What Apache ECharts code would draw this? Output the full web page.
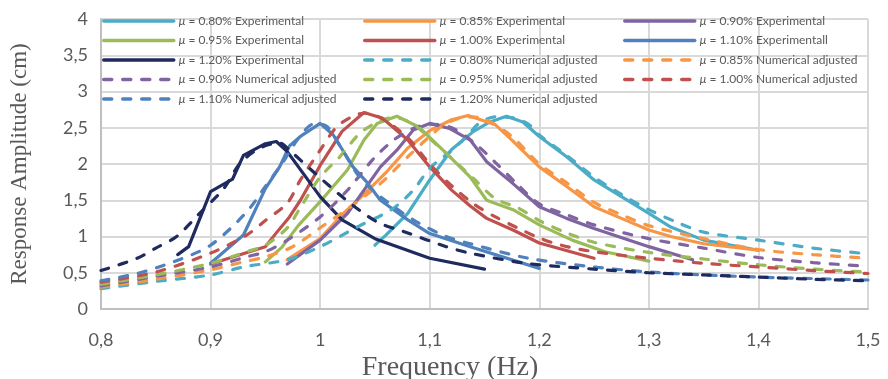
<!DOCTYPE html>
<html>
<head>
<meta charset="utf-8">
<script src="https://cdn.jsdelivr.net/npm/echarts@6/dist/echarts.min.js"></script>
<style>
  html, body { margin: 0; padding: 0; background: #fff; }
  #chart { width: 888px; height: 379px; }
</style>
</head>
<body>
<div id="chart"></div>
<script>
// frequency (Hz), amplitude (cm)
const exp080 = [[1.05,0.88],[1.06,1.02],[1.08,1.32],[1.10,1.78],[1.12,2.20],[1.14,2.45],[1.155,2.58],[1.17,2.66],[1.185,2.58],[1.20,2.38],[1.225,2.10],[1.25,1.78],[1.275,1.55],[1.30,1.32],[1.32,1.13],[1.35,0.95],[1.40,0.81]];
const exp085 = [[0.97,0.68],[1.00,0.97],[1.02,1.30],[1.04,1.58],[1.06,1.88],[1.08,2.22],[1.10,2.46],[1.12,2.61],[1.135,2.67],[1.16,2.54],[1.175,2.33],[1.20,1.96],[1.225,1.69],[1.25,1.41],[1.275,1.25],[1.30,1.09],[1.32,1.00],[1.35,0.90],[1.40,0.81]];
const exp090 = [[0.97,0.62],[1.00,0.95],[1.025,1.32],[1.04,1.64],[1.055,1.96],[1.07,2.19],[1.085,2.47],[1.10,2.56],[1.118,2.49],[1.137,2.33],[1.152,2.03],[1.176,1.73],[1.20,1.41],[1.225,1.25],[1.25,1.11],[1.30,0.86],[1.34,0.68]];
const exp095 = [[0.95,0.65],[0.965,0.85],[0.98,1.15],[1.00,1.48],[1.025,1.92],[1.04,2.33],[1.052,2.56],[1.07,2.66],[1.09,2.51],[1.115,2.15],[1.137,1.82],[1.152,1.50],[1.176,1.37],[1.20,1.16],[1.23,0.95],[1.26,0.79],[1.30,0.66]];
const exp100 = [[0.90,0.62],[0.95,0.86],[0.96,1.05],[0.972,1.27],[0.982,1.50],[1.00,1.98],[1.02,2.45],[1.04,2.71],[1.057,2.63],[1.08,2.33],[1.10,1.96],[1.12,1.64],[1.137,1.42],[1.152,1.25],[1.176,1.09],[1.20,0.91],[1.25,0.70]];
const exp110 = [[0.90,0.63],[0.93,1.02],[0.95,1.66],[0.963,1.96],[0.972,2.25],[0.982,2.38],[1.00,2.56],[1.012,2.40],[1.03,1.96],[1.042,1.76],[1.055,1.50],[1.08,1.23],[1.10,1.04],[1.137,0.86],[1.20,0.56]];
const exp120 = [[0.87,0.75],[0.88,0.86],[0.90,1.62],[0.92,1.79],[0.93,2.12],[0.95,2.28],[0.96,2.31],[0.97,2.17],[1.00,1.55],[1.02,1.23],[1.05,0.97],[1.10,0.70],[1.15,0.55]];

const num080 = [[0.80,0.28],[0.85,0.38],[0.90,0.47],[0.93,0.58],[0.97,0.68],[1.00,0.86],[1.035,1.14],[1.065,1.37],[1.085,1.64],[1.10,1.94],[1.12,2.19],[1.135,2.40],[1.145,2.56],[1.16,2.65],[1.175,2.64],[1.19,2.55],[1.20,2.40],[1.225,2.12],[1.25,1.82],[1.275,1.58],[1.30,1.37],[1.325,1.20],[1.35,1.06],[1.40,0.95],[1.45,0.84],[1.50,0.76]];
const num085 = [[0.80,0.30],[0.85,0.41],[0.90,0.54],[0.93,0.65],[0.95,0.72],[0.975,0.86],[1.00,1.12],[1.025,1.38],[1.055,1.73],[1.08,2.10],[1.10,2.38],[1.115,2.56],[1.135,2.65],[1.15,2.62],[1.175,2.38],[1.20,2.00],[1.225,1.74],[1.25,1.47],[1.275,1.30],[1.30,1.15],[1.35,0.97],[1.40,0.82],[1.45,0.75],[1.50,0.70]];
const num090 = [[0.80,0.32],[0.85,0.45],[0.90,0.58],[0.933,0.72],[0.95,0.79],[0.97,0.95],[1.00,1.27],[1.025,1.64],[1.048,2.06],[1.067,2.33],[1.085,2.49],[1.10,2.55],[1.12,2.50],[1.14,2.30],[1.16,2.02],[1.18,1.72],[1.20,1.45],[1.225,1.30],[1.25,1.16],[1.30,0.97],[1.35,0.84],[1.40,0.71],[1.45,0.64],[1.50,0.59]];
const num095 = [[0.80,0.34],[0.85,0.47],[0.90,0.63],[0.933,0.79],[0.95,0.88],[0.97,1.12],[0.982,1.40],[1.00,1.82],[1.018,2.10],[1.036,2.42],[1.055,2.60],[1.068,2.64],[1.085,2.55],[1.10,2.35],[1.12,2.08],[1.14,1.80],[1.16,1.52],[1.18,1.40],[1.20,1.22],[1.225,1.05],[1.25,0.92],[1.30,0.78],[1.35,0.69],[1.40,0.61],[1.45,0.55],[1.50,0.51]];
const num100 = [[0.80,0.37],[0.85,0.51],[0.90,0.77],[0.933,1.02],[0.95,1.22],[0.97,1.46],[0.982,1.78],[1.00,2.19],[1.015,2.51],[1.03,2.66],[1.04,2.70],[1.055,2.64],[1.08,2.36],[1.10,2.00],[1.12,1.70],[1.14,1.45],[1.16,1.27],[1.18,1.12],[1.20,0.98],[1.22,0.88],[1.25,0.79],[1.30,0.70],[1.35,0.63],[1.40,0.58],[1.45,0.53],[1.50,0.49]];
const num110 = [[0.80,0.39],[0.833,0.49],[0.866,0.65],[0.90,0.88],[0.933,1.34],[0.95,1.69],[0.965,2.00],[0.98,2.35],[0.994,2.55],[1.005,2.53],[1.02,2.20],[1.036,1.82],[1.055,1.55],[1.085,1.23],[1.115,1.00],[1.137,0.90],[1.19,0.70],[1.25,0.58],[1.30,0.51],[1.35,0.47],[1.40,0.44],[1.45,0.42],[1.50,0.40]];
const num120 = [[0.80,0.53],[0.833,0.70],[0.85,0.84],[0.869,1.00],[0.89,1.32],[0.912,1.66],[0.927,2.01],[0.945,2.22],[0.963,2.29],[0.972,2.19],[0.994,1.89],[1.024,1.50],[1.052,1.20],[1.076,1.07],[1.115,0.86],[1.137,0.77],[1.188,0.63],[1.25,0.55],[1.30,0.50],[1.35,0.47],[1.40,0.44],[1.45,0.41],[1.50,0.39]];

const seriesList = [
  ['μ = 0.80% Experimental', exp080, '#4bacc6', false],
  ['μ = 0.85% Experimental', exp085, '#f79646', false],
  ['μ = 0.90% Experimental', exp090, '#8064a2', false],
  ['μ = 0.95% Experimental', exp095, '#9bbb59', false],
  ['μ = 1.00% Experimental', exp100, '#c0504d', false],
  ['μ = 1.10% Experimentall', exp110, '#4f81bd', false],
  ['μ = 1.20% Experimental', exp120, '#1f2a5e', false],
  ['μ = 0.80% Numerical adjusted', num080, '#4bacc6', true],
  ['μ = 0.85% Numerical adjusted', num085, '#f79646', true],
  ['μ = 0.90% Numerical adjusted', num090, '#8064a2', true],
  ['μ = 0.95% Numerical adjusted', num095, '#9bbb59', true],
  ['μ = 1.00% Numerical adjusted', num100, '#c0504d', true],
  ['μ = 1.10% Numerical adjusted', num110, '#4f81bd', true],
  ['μ = 1.20% Numerical adjusted', num120, '#1f2a5e', true],
];

const names = seriesList.map(s => s[0]);
// legend is laid out by Excel row by row, 3 per row
const col = k => names.filter((n, i) => i % 3 === k);

const legendBase = {
  orient: 'vertical',
  top: 14,
  itemWidth: 70,
  itemHeight: 3,
  itemGap: 5.5,
  padding: 0,
  itemStyle: { opacity: 0 },
  lineStyle: { width: 3.5 },
  formatter: n => '{i|μ}' + n.slice(1),
  textStyle: {
    color: '#595959', fontSize: 12, fontFamily: 'Lato', lineHeight: 14,
    rich: { i: { fontStyle: 'italic', fontSize: 12, fontFamily: 'Lato', color: '#595959' } }
  }
};

const fmt = v => String(Number(v.toFixed(1))).replace('.', ',');

const chart = echarts.init(document.getElementById('chart'));
chart.setOption({
  animation: false,
  backgroundColor: '#fff',
  grid: { left: 101, right: 20, top: 19, bottom: 70, outerBoundsMode: 'none', containLabel: false },
  legend: [
    Object.assign({}, legendBase, { left: 102, data: col(0) }),
    Object.assign({}, legendBase, { left: 363, data: col(1) }),
    Object.assign({}, legendBase, { left: 623, data: col(2) }),
  ],
  xAxis: {
    type: 'value', min: 0.8, max: 1.5, interval: 0.1,
    name: 'Frequency (Hz)', nameLocation: 'middle', nameGap: 39,
    nameTextStyle: { fontFamily: 'Liberation Serif', fontSize: 28, color: '#595959', padding: [0, 69, 0, 0] },
    axisLine: { show: true, lineStyle: { color: '#bfbfbf', width: 2 } },
    axisTick: { show: false },
    axisLabel: { formatter: fmt, color: '#595959', fontSize: 18, fontFamily: 'Lato', margin: 22 },
    splitLine: { show: true, lineStyle: { color: '#d9d9d9', width: 2 } }
  },
  yAxis: {
    type: 'value', min: 0, max: 4, interval: 0.5,
    name: 'Response Amplitude (cm)', nameLocation: 'middle', nameGap: 70,
    nameTextStyle: { fontFamily: 'Liberation Serif', fontSize: 23, color: '#595959' },
    axisLine: { show: true, lineStyle: { color: '#bfbfbf', width: 2 } },
    axisTick: { show: false },
    axisLabel: { formatter: fmt, color: '#595959', fontSize: 18, fontFamily: 'Lato', margin: 13 },
    splitLine: { show: true, lineStyle: { color: '#d9d9d9', width: 2 } }
  },
  series: seriesList.map(([name, data, color, dashed]) => ({
    name, type: 'line', data,
    showSymbol: false, symbol: 'none',
    smooth: dashed ? 0.3 : false,
    itemStyle: { color },
    lineStyle: dashed
      ? { color, width: 3.2, type: [8, 11], cap: 'round' }
      : { color, width: 3.2, cap: 'round', join: 'round' }
  }))
});
</script>
</body>
</html>
